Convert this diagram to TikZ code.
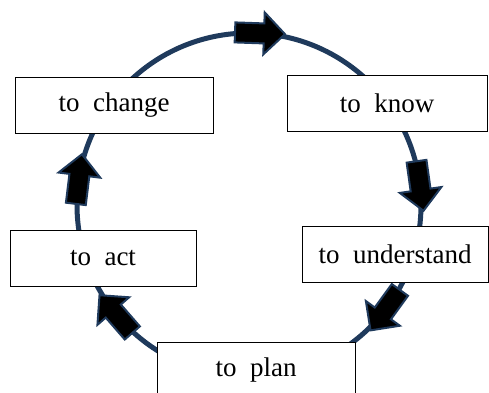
\documentclass[tikz,border=0pt]{standalone}
\usepackage{fontspec}
\setmainfont{Liberation Serif}
\usetikzlibrary{calc,shapes.arrows}
\definecolor{cyclenavy}{HTML}{1F3A5C}

\begin{document}
\begin{tikzpicture}[x=1pt,y=-1pt,
    stagebox/.style={draw=black,line width=1pt,fill=white,minimum height=56pt,
      inner sep=0pt,font=\fontsize{27}{32}\selectfont},
    flowarrow/.style={single arrow,draw=cyclenavy,line width=2pt,fill=black,
      minimum height=50pt,single arrow head extend=11pt,inner sep=0pt}]
  \useasboundingbox (0,0) rectangle (489,392);
  \coordinate (ctr) at (249,205);
  % the cycle
  \draw[cyclenavy,line width=5pt] (ctr) circle[radius=172pt];
  % arrows along the cycle (angle on the circle / name), shaft 18pt thick
  \foreach \a/\n in {88/top, 8/right, -36/lowright, -139/lowleft, 173/left}
    \node[flowarrow,rotate=\a-90] (arr-\n) at ($(ctr)+(\a:172pt)$) {\rule{0pt}{18pt}};
  % stages
  \node[stagebox,minimum width=198pt] (change) at (114,105) {to\ \ change};
  \node[stagebox,minimum width=200pt] (know) at (387,103.5) {to\ \ know};
  \node[stagebox,minimum width=186pt] (understand) at (395,254.5) {to\ \ understand};
  \node[stagebox,minimum width=186pt] (act) at (103,258) {to\ \ act};
  \node[stagebox,minimum width=198pt] (plan) at (256,370) {to\ \ plan};
\end{tikzpicture}
\end{document}
